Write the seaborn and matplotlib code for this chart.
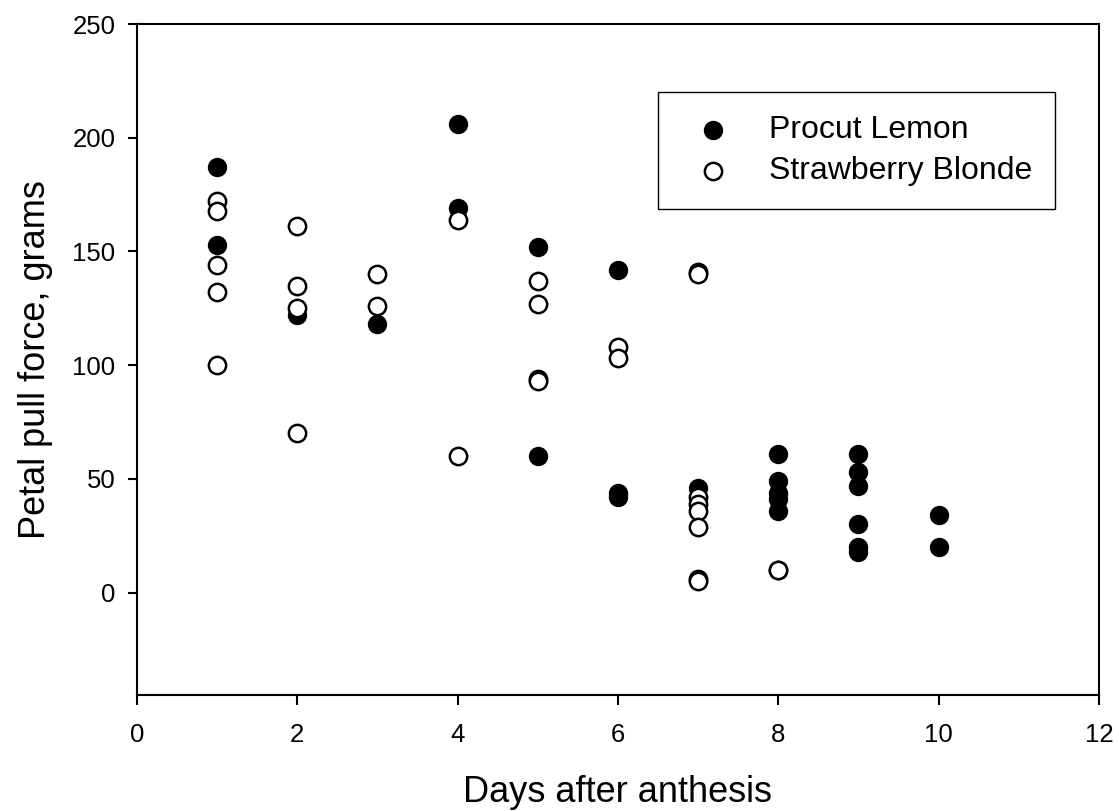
import matplotlib
matplotlib.use("Agg")
import matplotlib.pyplot as plt
import seaborn as sns
import pandas as pd

# ---- data ----
procut_days = [1, 1, 2, 3, 4, 4, 5, 5, 6, 6, 6, 7,
               8, 8, 8, 8, 8, 9, 9, 9, 9, 9, 9, 10, 10]
procut_force = [187, 153, 122, 118, 206, 169, 152, 60, 142, 44, 42, 46,
                61, 49, 44, 41, 36, 61, 53, 47, 30, 20, 18, 34, 20]

straw_days = [1, 1, 1, 1, 1, 2, 2, 2, 2, 3, 3, 4, 4, 5, 5, 5, 5, 6, 6,
              7, 7, 7, 7, 7, 7, 7, 7, 8, 8]
straw_force = [172, 168, 144, 132, 100, 161, 135, 125, 70, 140, 126, 164, 60,
               137, 127, 94, 93, 108, 103,
               141, 140, 42, 39, 36, 29, 6, 5, 10, 10]

series_names = ["Procut Lemon", "Strawberry Blonde"]
x_ticks = [0, 2, 4, 6, 8, 10, 12]
y_ticks = [0, 50, 100, 150, 200, 250]

df_p = pd.DataFrame({"day": procut_days, "force": procut_force})
df_s = pd.DataFrame({"day": straw_days, "force": straw_force})

sns.set_style("white")
plt.rcParams["font.family"] = ["Liberation Sans", "DejaVu Sans"]
plt.rcParams["text.color"] = "black"
plt.rcParams["axes.labelcolor"] = "black"
plt.rcParams["xtick.color"] = "black"
plt.rcParams["ytick.color"] = "black"

fig = plt.figure(figsize=(11.19, 8.11), dpi=100)
ax = fig.add_axes([0.1224, 0.1430, 0.8597, 0.8274])

sns.scatterplot(data=df_p, x="day", y="force", ax=ax, s=155,
                color="black", edgecolor="black", linewidth=1.5,
                label=series_names[0], zorder=3)
sns.scatterplot(data=df_s, x="day", y="force", ax=ax, s=155,
                color="white", edgecolor="black", linewidth=1.8,
                label=series_names[1], zorder=4)

ax.set_xlim(0, 12)
ax.set_ylim(-45, 250)
ax.set_xticks(x_ticks)
ax.set_yticks(y_ticks)
ax.set_xlabel("Days after anthesis", fontsize=26, labelpad=20)
ax.set_ylabel("Petal pull force, grams", fontsize=26, labelpad=14)

for sp in ax.spines.values():
    sp.set_visible(True)
    sp.set_color("black")
    sp.set_linewidth(1.5)

ax.tick_params(axis="x", bottom=True, top=False, direction="out",
               length=7, width=1.5, colors="black", labelsize=18.5, pad=13)
ax.tick_params(axis="y", left=True, right=False, direction="out",
               length=6.5, width=1.5, colors="black", labelsize=18.5, pad=9)
ax.grid(False)

leg = ax.legend(loc="upper left", bbox_to_anchor=(0.5416, 0.8987),
                borderaxespad=0, fontsize=23, frameon=True, fancybox=False,
                edgecolor="black", framealpha=1, borderpad=0.72,
                handlelength=2.0, handletextpad=0.75, labelspacing=0.36,
                markerscale=1.0)
leg.get_frame().set_linewidth(1.0)

fig.savefig("out.png", dpi=100, facecolor="white")
